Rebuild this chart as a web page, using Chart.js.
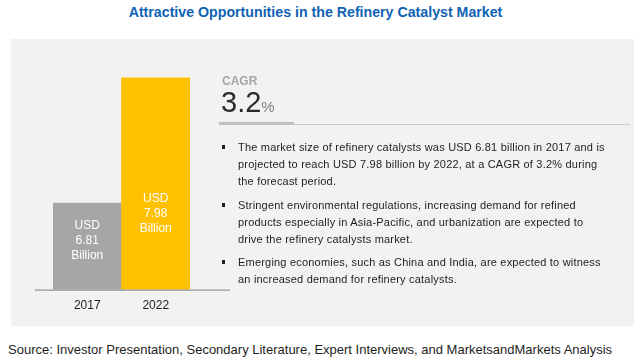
<!DOCTYPE html>
<html>
<head>
<meta charset="utf-8">
<script src="https://cdn.jsdelivr.net/npm/chart.js@4.4.0/dist/chart.umd.min.js"></script>
<style>
  body{margin:0;width:641px;height:361px;background:#fff;position:relative;overflow:hidden;font-family:"Liberation Sans",Arial,sans-serif}
  #title{position:absolute;left:-5px;width:641px;top:4px;text-align:center;font:bold 14.2px "Liberation Sans Narrow","Liberation Sans",sans-serif;color:#0f63b4}
  #panel{position:absolute;left:11px;top:39px;width:623px;height:287px;background:#f2f2f2}
  #myChart{position:absolute;left:0;top:0}
  #cagr{position:absolute;left:222px;top:74px;font:bold 12px "Liberation Sans Narrow","Liberation Sans",sans-serif;color:#a6a6a6}
  #rate{position:absolute;left:221px;top:86px;font:29px "Liberation Sans",sans-serif;color:#2b2b2b}
  #rate span{font-size:15px;color:#7f7f7f}
  #thick{position:absolute;left:219px;top:122px;width:75px;height:3px;background:#bfbfbf}
  #thin{position:absolute;left:294px;top:124px;width:336px;height:1px;background:#c9c9c9}
  .pt{position:absolute;left:238px;font-size:11px;letter-spacing:0.2px;line-height:17px;color:#1e1e1e;white-space:nowrap}
  .pt:before{content:"";position:absolute;left:-16px;top:6px;width:3px;height:4px;background:#1e1e1e}
  #source{position:absolute;left:8px;top:342px;font-size:13px;color:#1e1e1e;white-space:nowrap}
</style>
</head>
<body>
<div id="title">Attractive Opportunities in the Refinery Catalyst Market</div>
<div id="panel"></div>
<canvas id="myChart" width="230" height="330"></canvas>
<div id="cagr">CAGR</div>
<div id="rate">3.2<span>%</span></div>
<div id="thick"></div>
<div id="thin"></div>
<div class="pt" style="top:139px">The market size of refinery catalysts was USD 6.81 billion in 2017 and is<br>projected to reach USD 7.98 billion by 2022, at a CAGR of 3.2% during<br>the forecast period.</div>
<div class="pt" style="top:197px">Stringent environmental regulations, increasing demand for refined<br>products especially in Asia-Pacific, and urbanization are expected to<br>drive the refinery catalysts market.</div>
<div class="pt" style="top:254px">Emerging economies, such as China and India, are expected to witness<br>an increased demand for refinery catalysts.</div>
<div id="source">Source: Investor Presentation, Secondary Literature, Expert Interviews, and MarketsandMarkets Analysis</div>
<script>
const years = ['2017', '2022']
const marketSize = [6.81, 7.98]
const barColors = ['#a6a6a6', '#ffc000']

const ctx = document.getElementById('myChart')

// baseline that runs past the bars, plus the white value text inside them
const barText = {
    id: 'barText',
    afterDatasetsDraw(chart, args, opts) {
        const c = chart.ctx
        const y0 = chart.scales.y.getPixelForValue(chart.scales.y.min)
        c.save()
        c.strokeStyle = '#7f7f7f'
        c.lineWidth = 1
        c.beginPath()
        c.moveTo(chart.chartArea.left - 18, y0 + 0.5)
        c.lineTo(chart.chartArea.right + 40, y0 + 0.5)
        c.stroke()

        c.fillStyle = '#ffffff'
        c.font = '12px "Liberation Sans", sans-serif'
        c.textAlign = 'center'
        c.textBaseline = 'middle'
        chart.getDatasetMeta(0).data.forEach((bar, i) => {
            const lines = ['USD', marketSize[i].toFixed(2), 'Billion']
            lines.forEach((t, j) => {
                c.fillText(t, bar.x, bar.y + opts.offsets[i] + j * 15)
            })
        })
        c.restore()
    }
}

const config = {
    type: 'bar',
    data: {
        labels: years,
        datasets: [{
            data: marketSize,
            backgroundColor: barColors,
            barPercentage: 1,
            categoryPercentage: 1,
        }],
    },
    options: {
        responsive: false,
        animation: false,
        layout: {padding: {left: 53, right: 40, top: 49, bottom: 16}},
        scales: {
            x: {
                grid: {display: false},
                border: {display: false},
                ticks: {color: '#1e1e1e', font: {size: 12, family: 'Liberation Sans'}, padding: 1}
            },
            y: {display: false, min: 6, max: 8.25}
        },
        plugins: {
            legend: {display: false},
            tooltip: {enabled: false},
            barText: {offsets: [23, 121]}
        }
    },
    plugins: [barText]
}
const charts = new Chart(ctx, config)
</script>
</body>
</html>
